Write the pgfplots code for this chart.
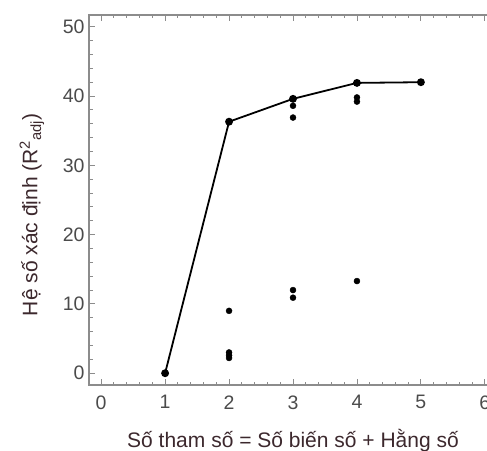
\documentclass[border=0pt]{standalone}
\usepackage{fontspec}
\setmainfont{Liberation Sans}
\usepackage{pgfplots}
\pgfplotsset{compat=1.18}
\definecolor{framegray}{RGB}{140,140,140}
\definecolor{ticktext}{RGB}{75,75,75}
\definecolor{labeltext}{RGB}{60,40,45}
\begin{document}
\begin{tikzpicture}
\begin{axis}[
  at={(89pt,65pt)}, anchor=south west,
  scale only axis, width=408pt, height=370pt,
  xmin=-0.19, xmax=6.19, ymin=-1.7, ymax=51.7,
  xtick={0,1,2,3,4,5,6}, ytick={0,10,20,30,40,50},
  minor x tick num=4, minor y tick num=4,
  tick align=inside, tick pos=both,
  major tick length=6pt, minor tick length=3.5pt,
  axis line style={framegray, line width=1.2pt},
  every tick/.style={framegray, line width=0.9pt},
  /pgf/number format/assume math mode=true,
  tick label style={font=\fontsize{19.5}{22}\selectfont, text=ticktext},
  xticklabel style={yshift=-7pt},
  yticklabel style={xshift=-1pt},
  label style={font=\fontsize{21}{24}\selectfont, text=labeltext},
  xlabel={Số tham số = Số biến số + Hằng số},
  ylabel={Hệ số xác định (R\textsuperscript{2}\textsubscript{adj})},
  xlabel style={at={(axis description cs:0.5,-0.149)}, anchor=center},
  ylabel style={at={(axis description cs:-0.14,0.46)}, anchor=center, rotate=0},
  clip=false,
]
\addplot[black, line width=1.8pt, mark=*, mark size=3pt] coordinates {
  (1,0) (2,36.3) (3,39.6) (4,41.9) (5,42.0)
};
\addplot[only marks, mark=*, mark size=3pt, black] coordinates {
  (2,9.0) (2,3.0) (2,2.6) (2,2.2)
  (3,38.6) (3,36.9) (3,12.0) (3,10.9)
  (4,39.8) (4,39.2) (4,13.3)
};
\end{axis}
\pgfresetboundingbox
\useasboundingbox (0pt,0pt) rectangle (487pt,450pt);
\end{tikzpicture}
\end{document}
